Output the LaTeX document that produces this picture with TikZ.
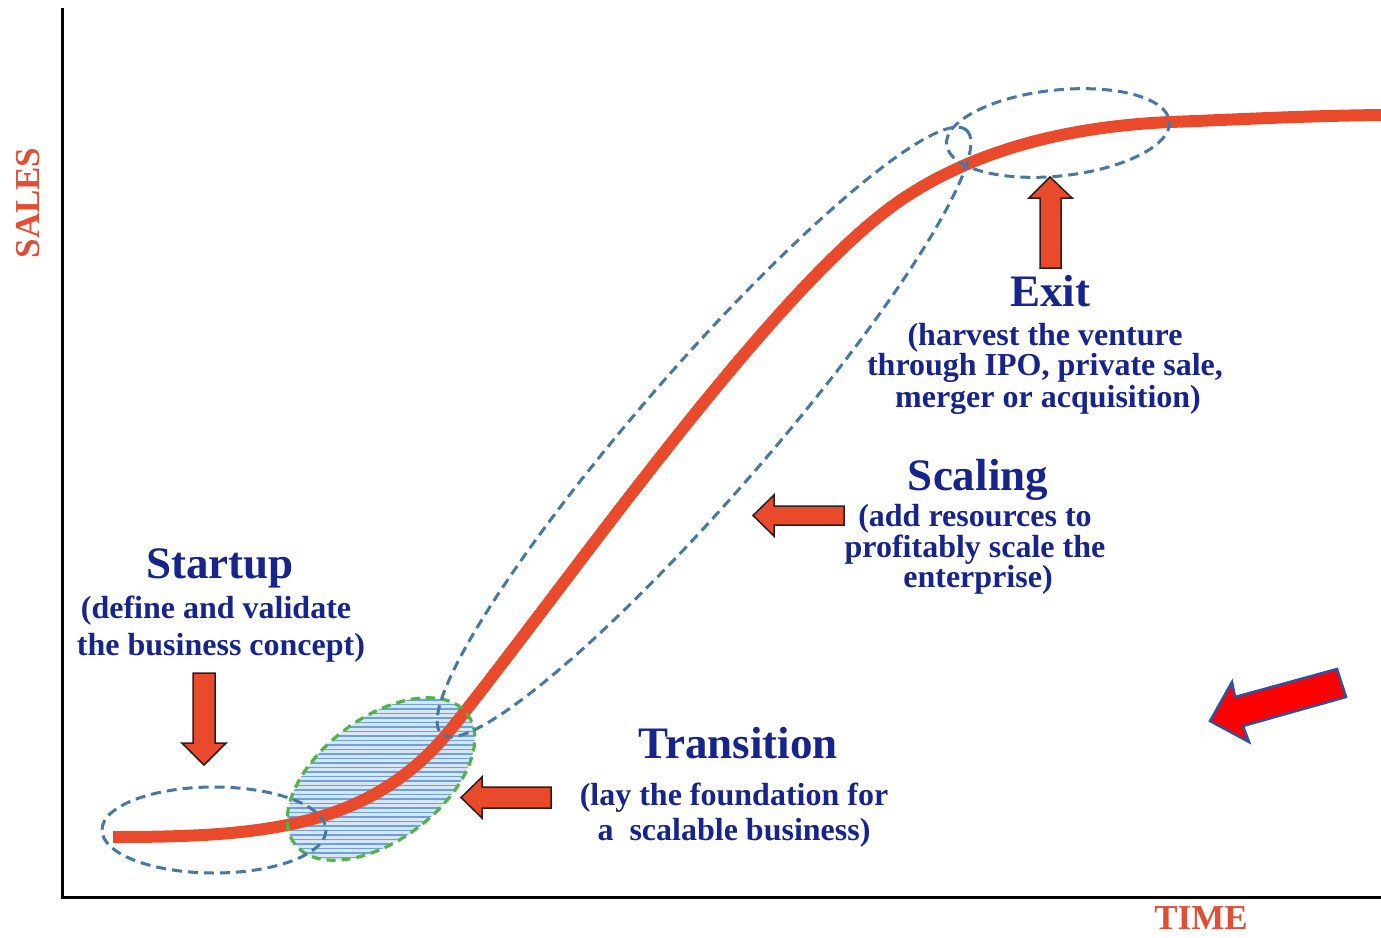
\documentclass[tikz,border=0pt]{standalone}
\usepackage{fontspec}
\setmainfont{Liberation Serif}
\definecolor{curvered}{RGB}{234,74,44}
\definecolor{dashblue}{RGB}{70,120,165}
\definecolor{dashgreen}{RGB}{80,180,70}
\definecolor{textblue}{RGB}{22,36,140}
\definecolor{hatchfill}{RGB}{215,230,246}
\definecolor{hatchline}{RGB}{110,160,218}
\definecolor{labelred}{RGB}{226,78,52}
\definecolor{arrowedge}{RGB}{45,30,30}
\definecolor{bigred}{RGB}{255,0,0}
\definecolor{bigedge}{RGB}{50,80,160}
\begin{document}
\begin{tikzpicture}[x=1pt,y=-1pt,
  axisline/.style={line width=3pt,black},
  salescurve/.style={curvered,line width=12pt},
  phaseoval/.style={dashblue,line width=3pt,dash pattern=on 10pt off 6pt},
  greenoval/.style={dashgreen,line width=3.2pt,dash pattern=on 9pt off 6pt},
  blockarrow/.style={fill=curvered,draw=arrowedge,line width=1.5pt,line join=miter},
  bigarrow/.style={fill=bigred,draw=bigedge,line width=2.5pt,line join=miter},
  titletext/.style={textblue,anchor=base,font=\fontsize{45}{50}\selectfont\bfseries},
  desctext/.style={textblue,anchor=base,font=\fontsize{32}{36}\selectfont\bfseries},
  axislabel/.style={labelred,font=\fontsize{35}{40}\selectfont\bfseries}]
\useasboundingbox (0,0) rectangle (1381,937);
\fill[white] (0,0) rectangle (1381,937);

% axes
\coordinate (ytop) at (62,8);
\coordinate (origin) at (62,897);
\coordinate (xend) at (1381,897);
\draw[axisline] (ytop) -- (origin) -- (xend);

% hatched transition oval
\begin{scope}
  \clip[rotate around={37:(381,779)}] (381,779) ellipse [x radius=108, y radius=61];
  \fill[hatchfill] (260,680) rectangle (500,880);
  \foreach \yy in {682,686.5,...,880} \draw[hatchline,line width=1.4pt] (260,\yy) -- (500,\yy);
\end{scope}

% S-curve
\draw[salescurve] (113,837) .. controls (263,837) and (371,828) .. (451,729)
  .. controls (561,593) and (774,284) .. (904,198)
  .. controls (984,145) and (1080,126) .. (1170,122)
  .. controls (1250,119) and (1300,116) .. (1381,115);

% ovals
\draw[greenoval,rotate around={37:(381,779)}] (381,779) ellipse [x radius=108, y radius=61];
\draw[phaseoval] (214,830) ellipse [x radius=112, y radius=43];
\draw[phaseoval,rotate around={49:(704,432)}] (704,432) ellipse [x radius=400, y radius=64];
\draw[phaseoval,rotate around={6:(1058,133)}] (1058,133) ellipse [x radius=112, y radius=43];

% block arrows
\draw[blockarrow] (193,673) -- (215,673) -- (215,743) -- (226,743) -- (204,765) -- (182,743) -- (193,743) -- cycle;
\draw[blockarrow] (1040,268) -- (1061,268) -- (1061,198) -- (1072,198) -- (1050,177) -- (1029,198) -- (1040,198) -- cycle;
\draw[blockarrow] (551,787) -- (551,808) -- (482,808) -- (482,818) -- (461,797.5) -- (482,777) -- (482,787) -- cycle;
\draw[blockarrow] (844,506) -- (844,525) -- (774,525) -- (774,536) -- (753,515.5) -- (774,495) -- (774,506) -- cycle;
\draw[bigarrow] (1337,669) -- (1235,697) -- (1232,682) -- (1210,721) -- (1249,742) -- (1243,726) -- (1346,697) -- cycle;

% axis labels
\node[axislabel,rotate=90] (sales) at (28,203) {SALES};
\node[axislabel] (time) at (1201,918) {TIME};

% startup
\node[titletext] (st0) at (220,578) {Startup};
\node[desctext] (st1) at (216,618) {(define and validate};
\node[desctext] (st2) at (221,655) {the business concept)};

% transition
\node[titletext] (tr0) at (738,758) {Transition};
\node[desctext] (tr1) at (734,805) {(lay the foundation for};
\node[desctext] (tr2) at (734,840) {a\ \ scalable business)};

% scaling
\node[titletext] (sc0) at (978,490) {Scaling};
\node[desctext] (sc1) at (975,526) {(add resources to};
\node[desctext] (sc2) at (975,557) {profitably scale the};
\node[desctext] (sc3) at (978,587) {enterprise)};

% exit
\node[titletext] (ex0) at (1050,306) {Exit};
\node[desctext] (ex1) at (1045,345) {(harvest the venture};
\node[desctext] (ex2) at (1045,375) {through IPO, private sale,};
\node[desctext] (ex3) at (1048,407) {merger or acquisition)};
\end{tikzpicture}
\end{document}
